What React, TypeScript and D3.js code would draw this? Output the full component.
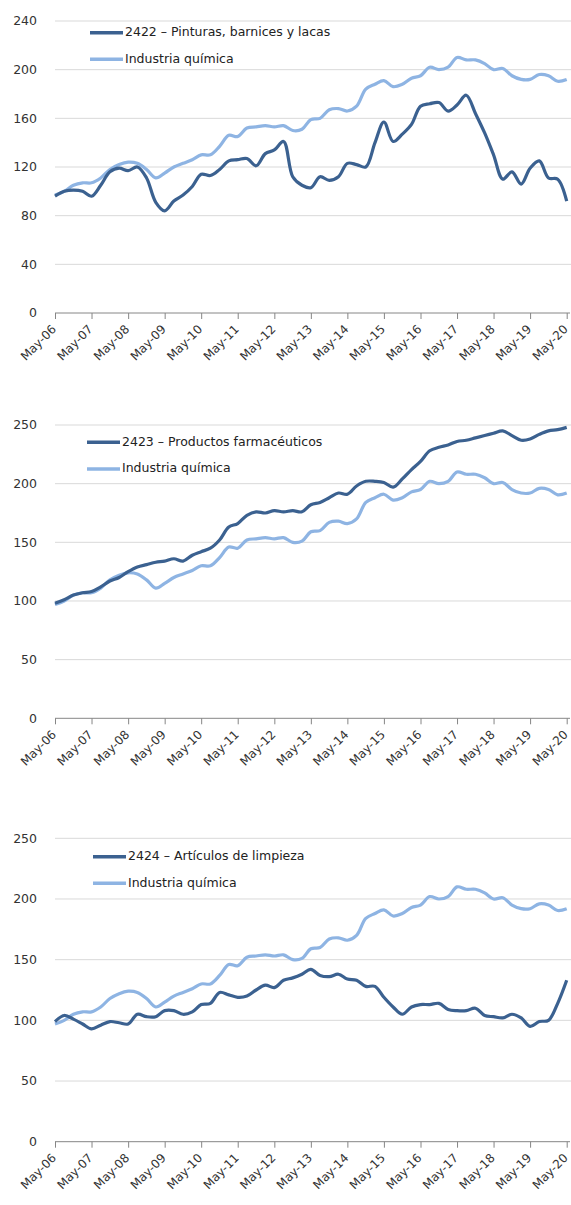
import * as d3 from 'd3';
import React, { useEffect, useRef } from 'react';

// quarterly readings, May-06 .. May-20
const startDate = new Date(2006, 4, 1);
const yearTicks = d3.range(2006, 2021).map(y => new Date(y, 4, 1));

const industriaQuimica = [
  97, 100, 105,
  107, 107, 111, 118,
  122, 124, 123, 118,
  111, 115, 120, 123,
  126, 130, 130, 137,
  146, 145, 152, 153,
  154, 153, 154, 150,
  151, 159, 160, 167,
  168, 166, 170, 184,
  188, 191, 186, 188,
  193, 195, 202, 200,
  202, 210, 208, 208,
  205, 200, 201, 195,
  192, 192, 196, 195,
  190.5, 192,
];

const pinturas = [
  96, 100, 101,
  100, 96, 105, 116,
  119, 117, 120, 111,
  91, 84, 92, 97,
  104, 114, 113, 118,
  125, 126, 127, 121,
  131, 134, 141, 112,
  105, 103, 112, 109,
  112, 123, 122, 120,
  140, 157, 141, 147,
  155, 170, 172, 173,
  166, 171, 179, 164,
  148, 130, 110, 116,
  106, 119, 125, 111,
  110, 92,
];

const farmaceuticos = [
  98, 101, 105,
  107, 108, 112, 117,
  120, 125, 129, 131,
  133, 134, 136, 134,
  139, 142, 145, 152,
  163, 166, 173, 176,
  175, 177, 176, 177,
  176, 182, 184, 188,
  192, 191, 198, 202,
  202, 201, 197, 204,
  212, 219, 228, 231,
  233, 236, 237, 239,
  241, 243, 245, 241,
  237, 238, 242, 245,
  246, 248,
];

const limpieza = [
  99, 104, 101,
  97, 93, 96, 99,
  98, 97, 105, 103,
  103, 108, 108, 105,
  107, 113, 114, 123,
  121, 119, 120, 125,
  129, 127, 133, 135,
  138, 142, 137, 136,
  138, 134, 133, 128,
  128, 119, 111, 105,
  111, 113, 113, 114,
  109, 108, 108, 110,
  104, 103, 102, 105,
  102, 95, 99, 100,
  114, 133,
];

const panels = [
  { label: '2422 – Pinturas, barnices y lacas', values: pinturas, yMax: 240, yStep: 40, top: 21, bottom: 313, legX: 90, legY: 32.7 },
  { label: '2423 – Productos farmacéuticos', values: farmaceuticos, yMax: 250, yStep: 50, top: 425, bottom: 718.3, legX: 87, legY: 442.3 },
  { label: '2424 – Artículos de limpieza', values: limpieza, yMax: 250, yStep: 50, top: 838.3, bottom: 1141.7, legX: 93, legY: 856.7 },
];

const DARK = '#3b6190';
const LIGHT = '#8eb4e3';
const FONT = '"DejaVu Sans", sans-serif';

const App = () => {
  const ref = useRef<SVGSVGElement>(null);

  useEffect(() => {
    const svg = d3.select(ref.current);
    svg.selectAll('*').remove();

    const dates = industriaQuimica.map((_, i) => d3.timeMonth.offset(startDate, 3 * i));
    const x = d3.scaleTime()
      .domain([startDate, new Date(2020, 4, 1)])
      .range([55, 566.7]);

    panels.forEach(p => {
      const g = svg.append('g');
      const y = d3.scaleLinear().domain([0, p.yMax]).range([p.bottom, p.top]);
      const yTicks = d3.range(0, p.yMax + 1, p.yStep);

      // gridlines
      g.selectAll('.grid')
        .data(yTicks.filter(t => t > 0))
        .enter().append('line')
        .attr('x1', 55).attr('x2', 571)
        .attr('y1', d => y(d)).attr('y2', d => y(d))
        .attr('stroke', '#d9d9d9').attr('stroke-width', 1);

      // y labels
      g.selectAll('.ylab')
        .data(yTicks)
        .enter().append('text')
        .attr('x', 37).attr('y', d => y(d))
        .attr('dy', '0.35em')
        .attr('text-anchor', 'end')
        .style('font-family', FONT).style('font-size', '12.5px')
        .attr('fill', '#333')
        .text(d => d);

      // x axis
      const ax = g.append('g')
        .attr('transform', `translate(0,${p.bottom})`)
        .call(d3.axisBottom(x).tickValues(yearTicks).tickSize(6).tickFormat(() => ''));
      ax.select('.domain').attr('stroke', '#868686').attr('d', `M55,0H570`);
      ax.selectAll('.tick line').attr('stroke', '#868686');

      g.selectAll('.xlab')
        .data(yearTicks)
        .enter().append('text')
        .attr('transform', d => `translate(${x(d) - 1},${p.bottom + 14}) rotate(-45)`)
        .attr('text-anchor', 'end')
        .attr('dy', '0.35em')
        .style('font-family', FONT).style('font-size', '12px')
        .attr('fill', '#333')
        .text(d => d3.timeFormat('%b-%y')(d));

      const line = d3.line<number>()
        .x((_, i) => x(dates[i]))
        .y(d => y(d))
        .curve(d3.curveCatmullRom.alpha(0.5));

      g.append('path')
        .attr('d', line(industriaQuimica))
        .attr('fill', 'none').attr('stroke', LIGHT).attr('stroke-width', 3.2)
        .attr('stroke-linejoin', 'round');
      g.append('path')
        .attr('d', line(p.values))
        .attr('fill', 'none').attr('stroke', DARK).attr('stroke-width', 3.2)
        .attr('stroke-linejoin', 'round');

      // legend
      const leg = [
        { name: p.label, color: DARK, dy: 0 },
        { name: 'Industria química', color: LIGHT, dy: 26.6 },
      ];
      leg.forEach(l => {
        g.append('line')
          .attr('x1', p.legX).attr('x2', p.legX + 33)
          .attr('y1', p.legY + l.dy).attr('y2', p.legY + l.dy)
          .attr('stroke', l.color).attr('stroke-width', 3.5);
        g.append('text')
          .attr('x', p.legX + 35).attr('y', p.legY + l.dy - 1)
          .attr('dy', '0.35em')
          .style('font-family', FONT).style('font-size', '12.5px')
          .attr('fill', '#222')
          .text(l.name);
      });
    });
  }, []);

  return (
    <svg ref={ref} width={571} height={1205}
      style={{ position: 'absolute', left: 0, top: 0, background: '#fff' }} />
  );
};

export default App;
